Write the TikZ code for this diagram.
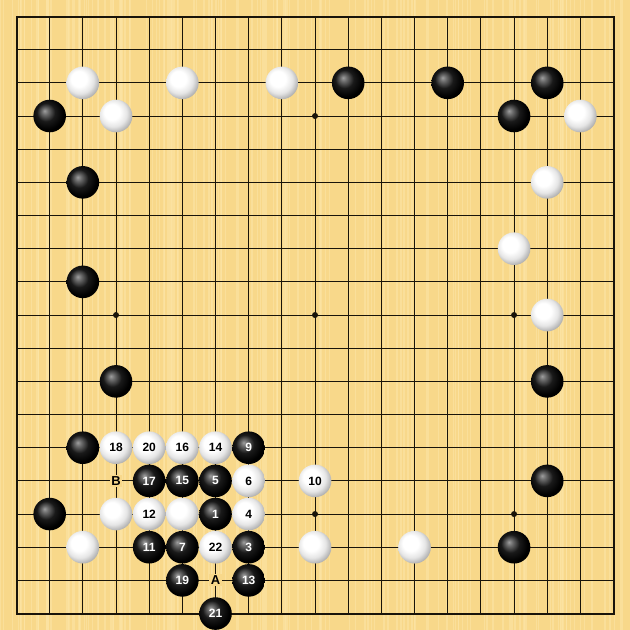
\documentclass[tikz,border=0pt]{standalone}
\usepackage{fontspec}
\setmainfont{Liberation Sans}
\definecolor{board}{RGB}{248,216,138}
\definecolor{stripe}{RGB}{252,230,168}
\definecolor{gridc}{RGB}{25,20,10}
\pgfdeclareradialshading{bball}{\pgfqpoint{-8bp}{8bp}}{color(0bp)=(black!38); color(5bp)=(black!58); color(14bp)=(black!90); color(25bp)=(black); color(50bp)=(black)}
\pgfdeclareradialshading{wball}{\pgfqpoint{-8bp}{8bp}}{color(0bp)=(white); color(12bp)=(white); color(21bp)=(black!10); color(29bp)=(black!32); color(50bp)=(black!40)}
\newcommand\bstone[3]{\node[bst] (s#1-#2) at ({16.5+33.17*#1},{16.5+33.17*#2}) {#3};}
\newcommand\wstone[3]{\node[wst] (s#1-#2) at ({16.5+33.17*#1},{16.5+33.17*#2}) {#3};}
\newcommand\ptlabel[3]{\node[lbl] (l#1-#2) at ({16.5+33.17*#1},{16.5+33.17*#2}) {#3};}
\begin{document}
\begin{tikzpicture}[x=1pt,y=-1pt,
  stone/.style={circle,minimum size=32.6pt,inner sep=0pt,font=\fontsize{12}{12}\selectfont\bfseries},
  bst/.style={stone,shade,shading=bball,text=white},
  wst/.style={stone,shade,shading=wball,text=black},
  lbl/.style={fill=board,inner sep=1.5pt,text=black,font=\fontsize{13}{13}\selectfont\bfseries},
  gridline/.style={draw=gridc,line width=1pt},
  hoshi/.style={circle,fill=gridc,inner sep=0pt,minimum size=6pt}]
\fill[board] (0,0) rectangle (630,630);
\useasboundingbox (0,0) rectangle (630,630);
\pgfmathsetseed{7}
\foreach \k in {1,...,160}{
  \pgfmathsetmacro\sx{rnd*630}
  \pgfmathsetmacro\sw{0.6+rnd*1.4}
  \fill[stripe,opacity=0.55] (\sx,0) rectangle ({\sx+\sw},630);
}
\foreach \i in {1,...,17}{
  \draw[gridline] ({16.5+33.17*\i},16.5) -- ({16.5+33.17*\i},613.5);
  \draw[gridline] (16.5,{16.5+33.17*\i}) -- (613.5,{16.5+33.17*\i});
}
\draw[draw=gridc,line width=2pt] (16.5,16.5) rectangle (613.5,613.5);
\foreach \c in {3,9,15}{\foreach \r in {3,9,15}{
  \node[hoshi] (h\c-\r) at ({16.5+33.17*\c},{16.5+33.17*\r}) {};
}}
% top and sides
\wstone{2}{2}{}
\wstone{5}{2}{}
\wstone{8}{2}{}
\bstone{10}{2}{}
\bstone{13}{2}{}
\bstone{16}{2}{}
\bstone{1}{3}{}
\wstone{3}{3}{}
\bstone{15}{3}{}
\wstone{17}{3}{}
\bstone{2}{5}{}
\wstone{16}{5}{}
\wstone{15}{7}{}
\bstone{2}{8}{}
\wstone{16}{9}{}
\bstone{3}{11}{}
\bstone{16}{11}{}
% bottom left fight
\bstone{2}{13}{}
\wstone{3}{13}{18}
\wstone{4}{13}{20}
\wstone{5}{13}{16}
\wstone{6}{13}{14}
\bstone{7}{13}{9}
\ptlabel{3}{14}{B}
\bstone{4}{14}{17}
\bstone{5}{14}{15}
\bstone{6}{14}{5}
\wstone{7}{14}{6}
\wstone{9}{14}{10}
\bstone{16}{14}{}
\bstone{1}{15}{}
\wstone{3}{15}{}
\wstone{4}{15}{12}
\wstone{5}{15}{}
\bstone{6}{15}{1}
\wstone{7}{15}{4}
\wstone{2}{16}{}
\bstone{4}{16}{11}
\bstone{5}{16}{7}
\wstone{6}{16}{22}
\bstone{7}{16}{3}
\wstone{9}{16}{}
\wstone{12}{16}{}
\bstone{15}{16}{}
\bstone{5}{17}{19}
\ptlabel{6}{17}{A}
\bstone{7}{17}{13}
\bstone{6}{18}{21}
\end{tikzpicture}
\end{document}
